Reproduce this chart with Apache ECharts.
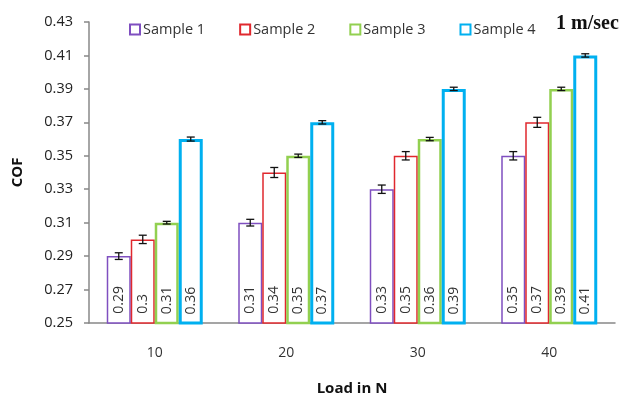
<!DOCTYPE html>
<html>
<head>
<meta charset="utf-8">
<script src="https://cdn.jsdelivr.net/npm/echarts@6/dist/echarts.min.js"></script>
<style>
  html, body { margin: 0; padding: 0; background: #fff; }
  #chart { width: 627px; height: 398px; }
</style>
</head>
<body>
<div id="chart"></div>
<script>
// data
var categories = ['10', '20', '30', '40']
var seriesNames = ['Sample 1', 'Sample 2', 'Sample 3', 'Sample 4']
var sample1 = [0.29, 0.31, 0.33, 0.35]
var sample2 = [0.30, 0.34, 0.35, 0.37]
var sample3 = [0.31, 0.35, 0.36, 0.39]
var sample4 = [0.36, 0.37, 0.39, 0.41]
var err1 = [0.002, 0.002, 0.0025, 0.0025]
var err2 = [0.0025, 0.003, 0.0025, 0.003]
var err3 = [0.0008, 0.001, 0.001, 0.001]
var err4 = [0.0012, 0.001, 0.001, 0.001]

var colors = ['#7F4FC0', '#E0282E', '#92D050', '#00B0F0']
var borderWidths = [1.5, 1.5, 2.5, 3]
var values = [sample1, sample2, sample3, sample4]
var errors = [err1, err2, err3, err4]
var barShare = 0.73 // part of category taken by the 4 bars

var chart = echarts.init(document.getElementById('chart'))

var series = []
values.forEach(function (vals, i) {
  series.push({
    name: seriesNames[i],
    type: 'bar',
    data: vals,
    barGap: 0,
    barCategoryGap: '27%',
    itemStyle: {
      color: '#fff',
      borderColor: colors[i],
      borderWidth: borderWidths[i]
    },
    label: {
      show: true,
      position: 'insideBottom',
      rotate: 90,
      align: 'left',
      verticalAlign: 'middle',
      distance: 10,
      color: '#333',
      fontSize: 14,
      fontFamily: 'Open Sans'
    },
    z: 2
  })
})

// error bars, one custom series per sample
values.forEach(function (vals, i) {
  var data = vals.map(function (v, k) {
    return [k, v - errors[i][k], v + errors[i][k]]
  })
  series.push({
    type: 'custom',
    name: 'err' + i,
    data: data,
    z: 5,
    silent: true,
    renderItem: function (params, api) {
      var k = api.value(0)
      var lo = api.coord([k, api.value(1)])
      var hi = api.coord([k, api.value(2)])
      var bw = api.size([1, 0])[0] * barShare / 4
      var x = lo[0] + (i - 1.5) * bw
      var cap = 4
      var st = { stroke: '#111', lineWidth: 1.3 }
      return {
        type: 'group',
        children: [
          { type: 'line', shape: { x1: x, y1: lo[1], x2: x, y2: hi[1] }, style: st },
          { type: 'line', shape: { x1: x - cap, y1: lo[1], x2: x + cap, y2: lo[1] }, style: st },
          { type: 'line', shape: { x1: x - cap, y1: hi[1], x2: x + cap, y2: hi[1] }, style: st }
        ]
      }
    }
  })
})

chart.setOption({
  animation: false,
  grid: { left: 89, right: 12, top: 22, bottom: 75, outerBoundsMode: 'none' },
  legend: {
    data: seriesNames.map(function (n, i) {
      return { name: n, itemStyle: { color: '#fff', borderColor: colors[i], borderWidth: 2 } }
    }),
    icon: 'rect',
    left: 124,
    top: 17,
    itemWidth: 10,
    itemHeight: 10,
    itemGap: 34,
    textStyle: { fontSize: 14.5, color: '#333', fontFamily: 'Open Sans', padding: [0, 0, 0, -2] }
  },
  graphic: [{
    type: 'text',
    left: 556,
    top: 14,
    style: { text: '1 m/sec', font: 'bold 20px "Liberation Serif"', fill: '#111' }
  }],
  xAxis: {
    type: 'category',
    data: categories,
    name: 'Load in N',
    nameLocation: 'middle',
    nameGap: 58,
    nameTextStyle: { fontWeight: 'bold', fontSize: 15, color: '#111', fontFamily: 'Open Sans' },
    axisLine: { lineStyle: { color: '#888', width: 1.5 } },
    axisTick: { length: 5, lineStyle: { color: '#888', width: 1.5 } },
    axisLabel: { fontSize: 14, color: '#333', margin: 23, fontFamily: 'Open Sans' }
  },
  yAxis: {
    type: 'value',
    min: 0.25,
    max: 0.43,
    interval: 0.02,
    name: 'COF',
    nameLocation: 'middle',
    nameGap: 64,
    nameTextStyle: { fontWeight: 'bold', fontSize: 15, color: '#111', fontFamily: 'Open Sans' },
    splitLine: { show: false },
    axisLine: { show: true, lineStyle: { color: '#888', width: 1.5 } },
    axisTick: { show: true, length: 5, lineStyle: { color: '#888', width: 1.5 } },
    axisLabel: {
      fontSize: 14.5, color: '#222', margin: 16, fontFamily: 'Open Sans',
      formatter: function (v) { return v.toFixed(2) }
    }
  },
  series: series
})
</script>
</body>
</html>
